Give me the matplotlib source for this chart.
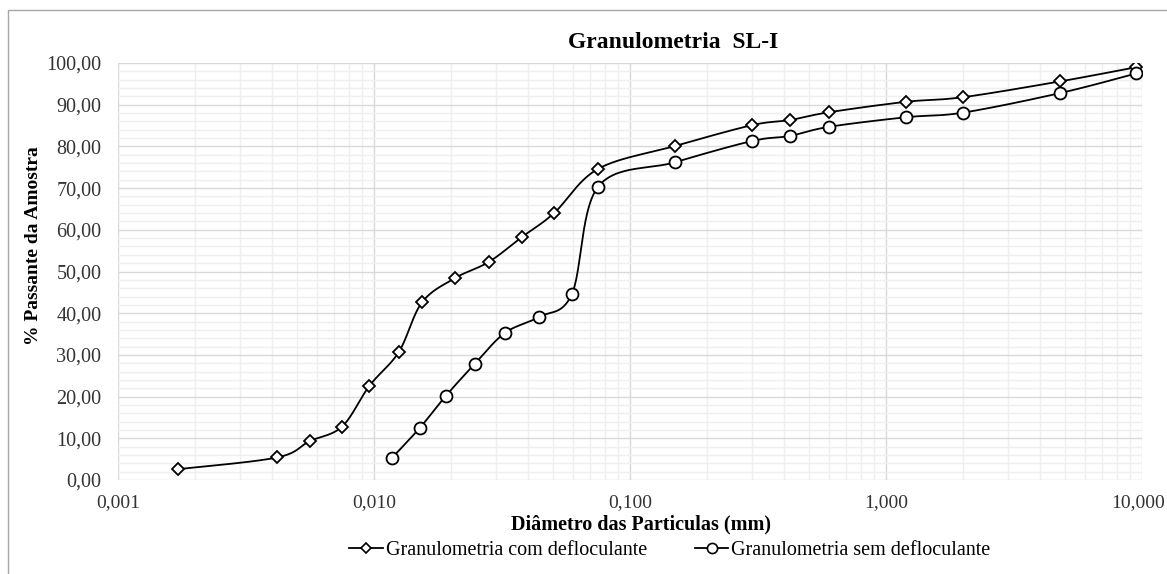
import numpy as np
import matplotlib
matplotlib.use("Agg")
import matplotlib.pyplot as plt
from matplotlib.ticker import FixedLocator, FuncFormatter
from matplotlib.patches import Rectangle
from matplotlib.transforms import ScaledTranslation

plt.rcParams['font.family'] = ['Liberation Serif', 'DejaVu Serif']

# diametro (mm) e % passante
d_com = [0.00172, 0.00418, 0.0056, 0.0075, 0.0096, 0.0125, 0.0154, 0.0207,
         0.0281, 0.0379, 0.0505, 0.075, 0.15, 0.3, 0.42, 0.6, 1.2, 2.0, 4.8, 9.5]
p_com = [2.6, 5.4, 9.3, 12.8, 22.6, 30.7, 42.6, 48.4, 52.3, 58.3, 64.0,
         74.6, 80.1, 85.1, 86.3, 88.2, 90.7, 91.8, 95.6, 99.0]

d_sem = [0.01175, 0.0151, 0.0191, 0.0248, 0.0325, 0.0442, 0.0593, 0.075,
         0.15, 0.3, 0.42, 0.6, 1.2, 2.0, 4.8, 9.5]
p_sem = [5.3, 12.5, 20.2, 27.9, 35.3, 39.1, 44.6, 70.3,
         76.2, 81.3, 82.5, 84.7, 87.0, 88.1, 92.8, 97.5]

x_ticks = [0.001, 0.01, 0.1, 1, 10]
x_labels = ["0,001", "0,010", "0,100", "1,000", "10,000"]

label_com = "Granulometria com defloculante"
label_sem = "Granulometria sem defloculante"

W, H = 1167, 574


def smooth(xs, ys, n=30, sx=1024 / 4.0, sy=417 / 100.0):
    # curva suavizada tipo excel (bezier/catmull-rom em log-x)
    u = np.log10(xs) * sx
    v = np.asarray(ys) * sy
    P = np.column_stack([u, v])
    P = np.vstack([P[0], P, P[-1]])
    out = []
    for i in range(1, len(P) - 2):
        p0, p1, p2, p3 = P[i - 1], P[i], P[i + 1], P[i + 2]
        c1 = p1 + (p2 - p0) / 6.0
        c2 = p2 - (p3 - p1) / 6.0
        t = np.linspace(0, 1, n)[:, None]
        seg = ((1 - t) ** 3) * p1 + 3 * ((1 - t) ** 2) * t * c1 + 3 * (1 - t) * t ** 2 * c2 + t ** 3 * p2
        out.append(seg)
    out = np.vstack(out)
    return 10 ** (out[:, 0] / sx), out[:, 1] / sy


fig = plt.figure(figsize=(W / 100, H / 100), dpi=100)
ax = fig.add_axes([118 / W, 1 - 480 / H, (1142 - 118) / W, (480 - 63) / H])

fig.patches.append(Rectangle((8 / W, -0.01), 1.0, 1 - 10 / H + 0.01,
                             transform=fig.transFigure, fill=False,
                             edgecolor='#a6a6a6', lw=1.0, zorder=0))

handles = []
for xs, ys, mk, ms, lab in [(d_com, p_com, 'D', 6.5, label_com),
                            (d_sem, p_sem, 'o', 8.6, label_sem)]:
    sxv, syv = smooth(xs, ys)
    ax.plot(sxv, syv, color='black', lw=1.3, zorder=3)
    ax.plot(xs, ys, linestyle='none', marker=mk, markersize=ms,
            markerfacecolor='white', markeredgecolor='black',
            markeredgewidth=1.3, zorder=4)
    h, = ax.plot([], [], color='black', lw=1.3, marker=mk, markersize=ms * 0.85,
                 markerfacecolor='white', markeredgecolor='black',
                 markeredgewidth=1.2, label=lab)
    handles.append(h)

ax.set_xscale('log')
ax.set_xlim(0.001, 10)
ax.set_ylim(0, 100)

ax.xaxis.set_major_locator(FixedLocator(x_ticks))
ax.xaxis.set_major_formatter(FuncFormatter(lambda v, p: x_labels[x_ticks.index(v)] if v in x_ticks else ""))
ax.xaxis.set_minor_locator(FixedLocator([m * 10.0 ** e for e in range(-3, 1) for m in range(2, 10)]))
ax.xaxis.set_minor_formatter(FuncFormatter(lambda v, p: ""))

ax.yaxis.set_major_locator(FixedLocator(np.arange(0, 101, 10)))
ax.yaxis.set_minor_locator(FixedLocator(np.arange(0, 101, 2)))
ax.yaxis.set_major_formatter(FuncFormatter(lambda v, p: ("%.2f" % v).replace('.', ',')))

ax.grid(which='major', color='#d9d9d9', lw=1.0)
ax.grid(which='minor', color='#efefef', lw=1.0)
ax.set_axisbelow(True)
for s in ax.spines.values():
    s.set_visible(False)
ax.tick_params(which='both', length=0, labelsize=14.5, colors='#333333')
ax.tick_params(axis='x', pad=10, labelsize=14)
ax.tick_params(axis='y', pad=12)

# ultimo rotulo (10,000) encosta na borda: desloca um pouco para dentro
last = ax.xaxis.get_major_ticks()[-1].label1
last.set_transform(last.get_transform() + ScaledTranslation(-4 / 100, 0, fig.dpi_scale_trans))

fig.text(673 / W, 1 - 43 / H, "Granulometria  SL-I", fontsize=17, fontweight='bold',
         ha='center', va='center')
fig.text(641 / W, 1 - 524 / H, "Diâmetro das Particulas (mm)", fontsize=14.5,
         fontweight='bold', ha='center', va='center')
fig.text(34 / W, 1 - 246 / H, "% Passante da Amostra", fontsize=14, fontweight='bold',
         ha='center', va='center', rotation=90)

fig.legend(handles=handles, loc='center', bbox_to_anchor=(670 / W, 1 - 550 / H),
           ncol=2, frameon=False, fontsize=14.5, handlelength=1.65,
           handletextpad=0.15, columnspacing=2.4, borderpad=0, borderaxespad=0)

fig.savefig("out.png", dpi=100)
